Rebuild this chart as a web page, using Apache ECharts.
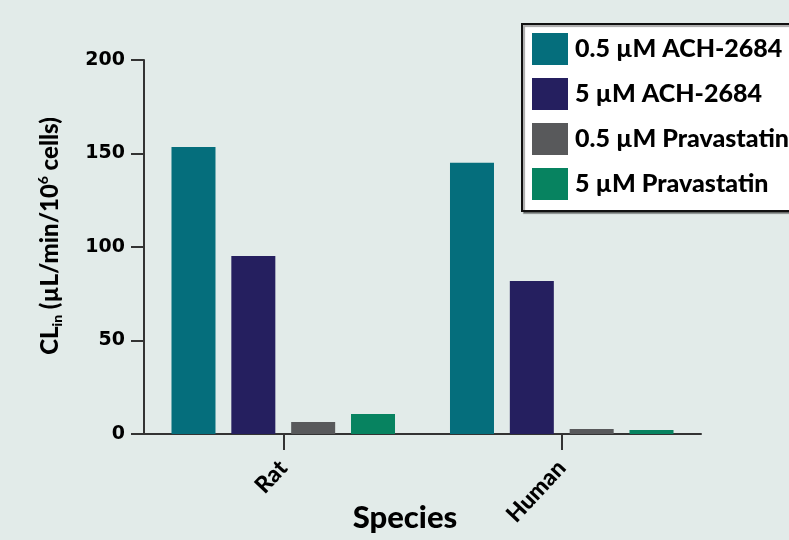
<!DOCTYPE html>
<html>
<head>
<meta charset="utf-8">
<script src="https://cdn.jsdelivr.net/npm/echarts@6/dist/echarts.min.js"></script>
<style>
  html, body { margin: 0; padding: 0; background: #e2ebe9; }
  #chart { width: 789px; height: 540px; }
</style>
</head>
<body>
<div id="chart"></div>
<script>
const categories = ['Rat', 'Human'];
const seriesNames = ['0.5 µM ACH-2684', '5 µM ACH-2684', '0.5 µM Pravastatin', '5 µM Pravastatin'];
const ach05 = [153.5, 145];
const ach5 = [95.2, 81.8];
const prav05 = [6.4, 2.7];
const prav5 = [10.7, 2.1];
const yTicks = [0, 50, 100, 150, 200];

const colors = ['#056e7c', '#251f5f', '#58595b', '#078360'];
const font = 'Lato';

const chart = echarts.init(document.getElementById('chart'), null, { renderer: 'canvas' });
const seriesData = [ach05, ach5, prav05, prav5];

chart.setOption({
  backgroundColor: '#e2ebe9',
  animation: false,
  title: {
    text: 'Species',
    left: 400,
    top: 497,
    textAlign: 'center',
    textStyle: { fontFamily: font, fontWeight: 900, fontSize: 31, color: '#000' }
  },
  legend: {
    orient: 'vertical',
    left: 522,
    top: 24,
    padding: [9, 24, 11, 10],
    itemWidth: 36,
    itemHeight: 32,
    itemGap: 13,
    icon: 'rect',
    backgroundColor: '#fff',
    borderColor: '#111',
    borderWidth: 2,
    shadowColor: 'rgba(0,0,0,0.35)',
    shadowOffsetX: 2,
    shadowOffsetY: 2,
    shadowBlur: 1,
    textStyle: { fontFamily: font, fontWeight: 900, fontSize: 25, color: '#000', padding: [0, 0, 0, 2] },
    data: seriesNames
  },
  grid: { left: 144, right: 88, top: 60, bottom: 106 },
  xAxis: {
    type: 'category',
    data: categories,
    axisLine: { lineStyle: { color: '#333', width: 2 } },
    axisTick: { show: true, alignWithLabel: true, length: 16, lineStyle: { color: '#333', width: 2 } },
    axisLabel: {
      rotate: 47,
      margin: 30,
      fontFamily: font,
      fontWeight: 900,
      fontSize: 23,
      color: '#000'
    }
  },
  yAxis: {
    type: 'value',
    min: yTicks[0],
    max: yTicks[yTicks.length - 1],
    interval: yTicks[1] - yTicks[0],
    splitLine: { show: false },
    axisLine: { show: true, lineStyle: { color: '#333', width: 2 } },
    axisTick: { show: true, length: 13, lineStyle: { color: '#333', width: 2 } },
    axisLabel: { margin: 19, fontFamily: 'DejaVu Sans', fontWeight: 'bold', fontSize: 19, color: '#000' },
    name: '{a|CL}{sub|in}{a| (µL/min/10}{sup|6}{a| cells)}',
    nameLocation: 'middle',
    nameGap: 80,
    nameTextStyle: {
      padding: [0, 0, 0, 22],
      rich: {
        a: { fontFamily: font, fontWeight: 900, fontSize: 24, color: '#000', lineHeight: 28 },
        sub: { fontFamily: font, fontWeight: 900, fontSize: 14, color: '#000', lineHeight: 28, verticalAlign: 'bottom' },
        sup: { fontFamily: font, fontWeight: 900, fontSize: 14, color: '#000', lineHeight: 28, verticalAlign: 'top' }
      }
    }
  },
  series: seriesNames.map((name, i) => ({
    name: name,
    type: 'bar',
    data: seriesData[i],
    barWidth: 44,
    barGap: '36%',
    itemStyle: { color: colors[i] }
  }))
});
</script>
</body>
</html>
